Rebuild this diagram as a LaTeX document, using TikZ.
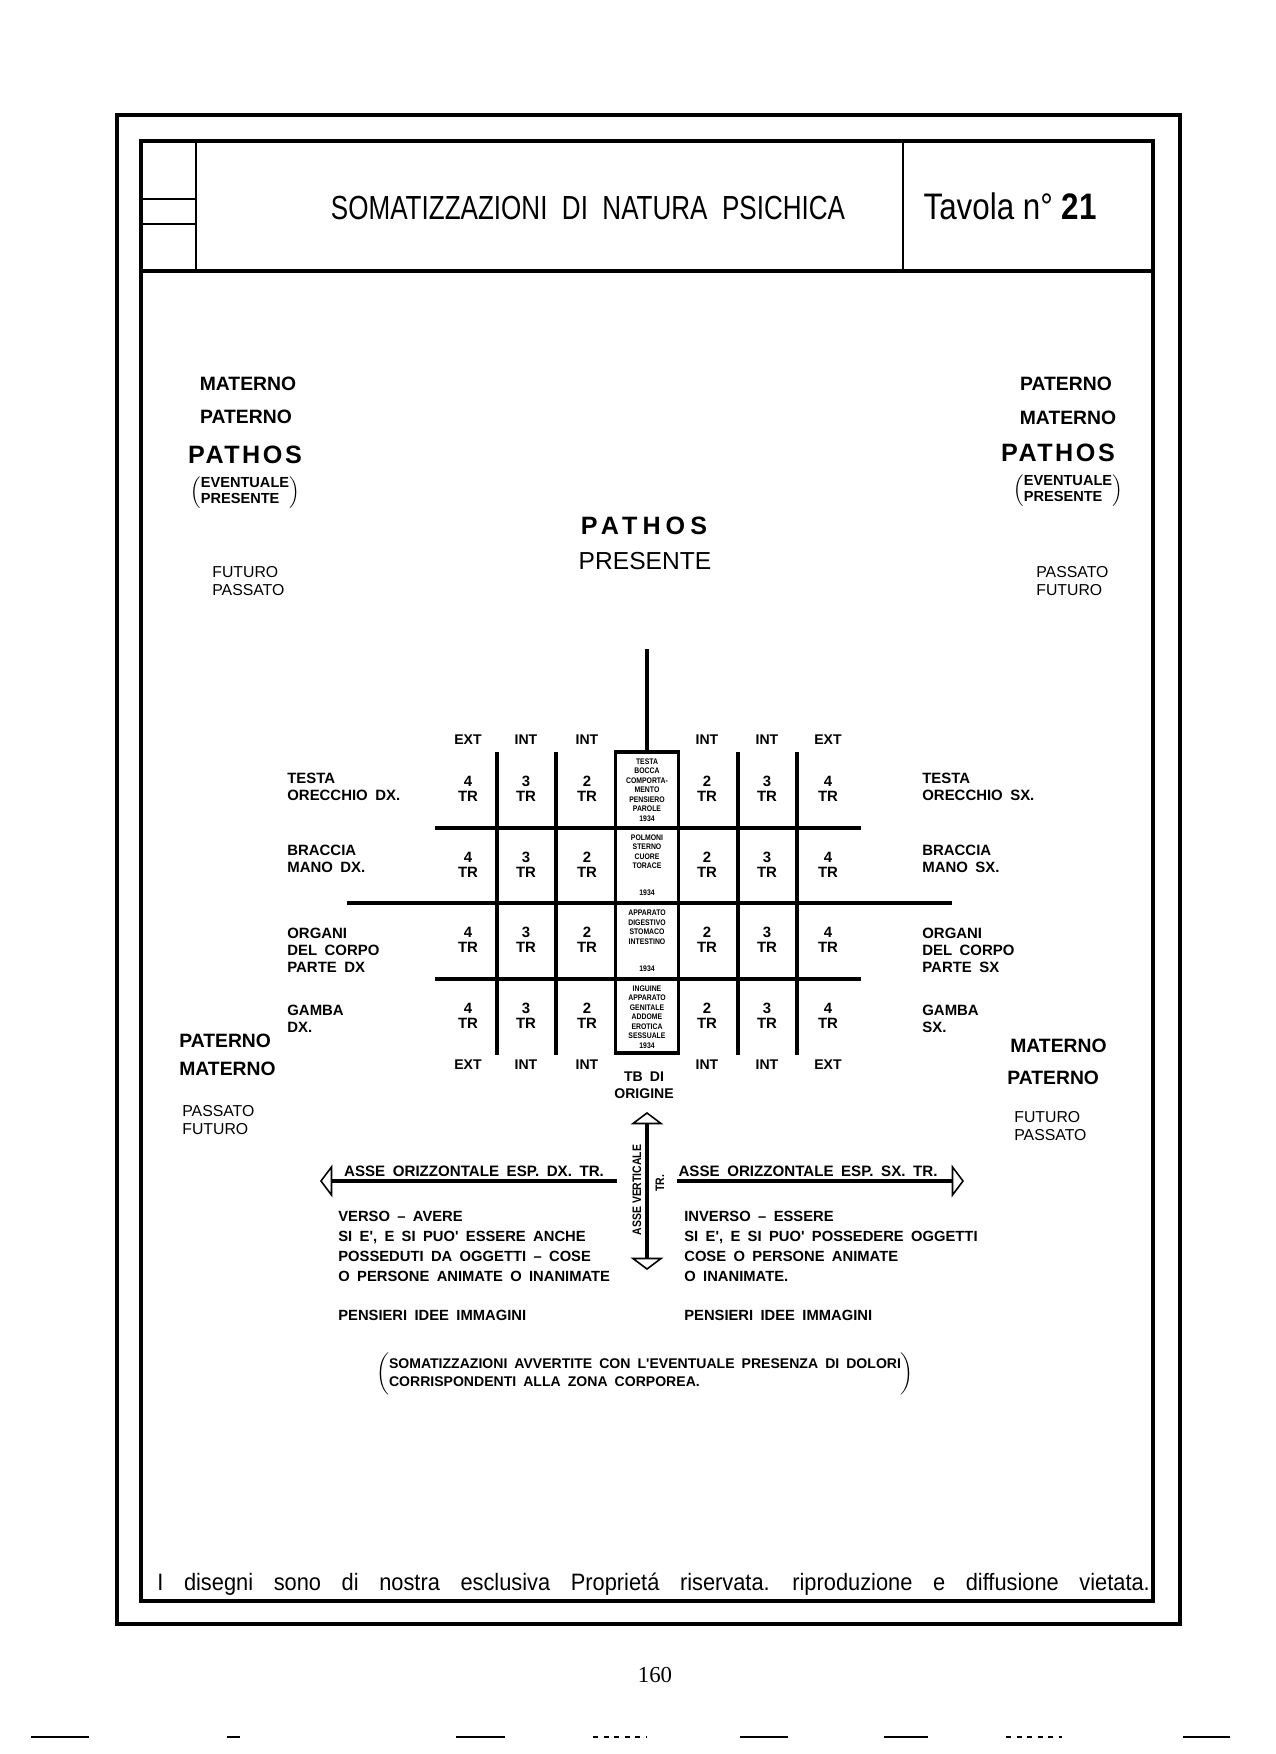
\documentclass[tikz,border=0pt]{standalone}
\usepackage{fontspec}
\setmainfont{Liberation Sans}
\newfontfamily\titlefont[FakeStretch=0.78, WordSpace=2]{Liberation Sans}
\newfontfamily\narrowfont[FakeStretch=0.85]{Liberation Sans}
\newfontfamily\cadfont[WordSpace=1.8]{Liberation Sans}
\newfontfamily\spacedfont[LetterSpace=10]{Liberation Sans}
\newfontfamily\widefont[LetterSpace=20]{Liberation Sans}
\newfontfamily\footfont[FakeStretch=0.92, WordSpace=3.4]{Liberation Sans}
\newfontfamily\pagefont{Liberation Serif}
\usetikzlibrary{positioning, arrows.meta}

\begin{document}
\begin{tikzpicture}[x=0.02cm, y=-0.02cm, inner sep=0pt,
    >={Triangle[open, length=7pt, width=18.5pt, line width=0.9pt]},
    cad/.style={font=\cadfont\bfseries\fontsize{8.5}{9.6}\selectfont, align=left},
    cell/.style={font=\bfseries\fontsize{8.5}{8.5}\selectfont, align=center},
    colhead/.style={font=\bfseries\fontsize{8}{9}\selectfont},
    organ/.style={font=\narrowfont\bfseries\fontsize{4.6}{5.4}\selectfont, align=center},
    parent/.style={font=\bfseries\fontsize{11}{13}\selectfont},
    pathos/.style={font=\spacedfont\bfseries\fontsize{14.3}{16}\selectfont},
    tense/.style={font=\fontsize{9}{10.2}\selectfont, align=left},
    paren/.style={font=\cadfont\bfseries\fontsize{8.3}{9.2}\selectfont},
    note/.style={font=\cadfont\bfseries\fontsize{8.4}{11.3}\selectfont, align=left},
    frame/.style={line width=2.2pt},
    gridline/.style={line width=2.2pt},
    axis/.style={line width=1.9pt},
    scan/.style={line width=0.9pt}]

% page and frames
\useasboundingbox (0,0) rectangle (1275,1754);
\fill[white] (0,0) rectangle (1275,1754);
\draw[frame] (117,115) rectangle (1180,1624);
\draw[frame, line width=1.8pt] (141,141) rectangle (1153,1601);
\draw[frame, line width=1.8pt] (141,271) -- (1153,271);
\draw[line width=1.5pt] (196,141) -- (196,271) (903,141) -- (903,271);
\draw[line width=1.5pt] (141,199) -- (196,199) (141,224) -- (196,224);

% header
\node[font=\titlefont\fontsize{19}{21}\selectfont] (title) at (588,208) {SOMATIZZAZIONI DI NATURA PSICHICA};
\node[font=\narrowfont\fontsize{21}{23}\selectfont] (tavola) at (1010,206) {Tavola n° \textbf{21}};

% upper corners
\node[parent] (matL) at (248,384) {MATERNO};
\node[parent] (patL) at (246,417) {PATERNO};
\node[pathos] (pathL) at (245,455) {PATHO\hspace{1.5pt}S};
\node[paren] (evL) at (245,492) {$\Bigl(\begin{tabular}{@{}l@{}}EVENTUALE\\PRESENTE\end{tabular}\Bigr)$};
\node[tense, anchor=west] (timeL) at (212,581) {FUTURO\\PASSATO};

\node[parent] (patR) at (1066,384) {PATERNO};
\node[parent] (matR) at (1068,418) {MATERNO};
\node[pathos] (pathR) at (1058,453) {PATHO\hspace{1.5pt}S};
\node[paren] (evR) at (1068,490) {$\Bigl(\begin{tabular}{@{}l@{}}EVENTUALE\\PRESENTE\end{tabular}\Bigr)$};
\node[tense, anchor=west] (timeR) at (1036,581) {PASSATO\\FUTURO};

\node[font=\widefont\bfseries\fontsize{14.3}{16}\selectfont] (pathC) at (644,526) {PATHOS};
\node[font=\fontsize{14}{16}\selectfont] (presC) at (645,561) {PRESENTE};

% lower corners
\node[parent, anchor=west] (patBL) at (179,1041) {PATERNO};
\node[parent, anchor=west] (matBL) at (179,1069) {MATERNO};
\node[tense, anchor=west] (timeBL) at (182,1120) {PASSATO\\FUTURO};
\node[parent, anchor=west] (matBR) at (1010,1046) {MATERNO};
\node[parent, anchor=west] (patBR) at (1007,1078) {PATERNO};
\node[tense, anchor=west] (timeBR) at (1014,1126) {FUTURO\\PASSATO};

% central column and grid
\node[draw, line width=1.8pt, minimum width=1.26cm, minimum height=6.02cm] (tb) at (647,902.5) {};
\coordinate (tbtop) at (647,649);
\draw[gridline] (tbtop) -- (tb.north);
\draw[gridline] (497,752) -- (497,1055) (556,752) -- (556,1055) (738,752) -- (738,1055) (797,752) -- (797,1055);
\draw[gridline] (435,828) -- (861,828) (347,903) -- (952,903) (435,979) -- (861,979);

\node[organ] (o1) at (647,790) {TESTA\\BOCCA\\COMPORTA-\\MENTO\\PENSIERO\\PAROLE\\1934};
\node[organ] (o2) at (647,865) {POLMONI\\STERNO\\CUORE\\TORACE\\[10pt]1934};
\node[organ] (o3) at (647,941) {APPARATO\\DIGESTIVO\\STOMACO\\INTESTINO\\[10.5pt]1934};
\node[organ] (o4) at (647,1017) {INGUINE\\APPARATO\\GENITALE\\ADDOME\\EROTICA\\SESSUALE\\1934};

% column heads
\node[colhead] (h1) at (468,740) {EXT};
\node[colhead] (h2) at (526,740) {INT};
\node[colhead] (h3) at (587,740) {INT};
\node[colhead] (h4) at (707,740) {INT};
\node[colhead] (h5) at (767,740) {INT};
\node[colhead] (h6) at (828,740) {EXT};
\node[colhead] (f1) at (468,1065) {EXT};
\node[colhead] (f2) at (526,1065) {INT};
\node[colhead] (f3) at (587,1065) {INT};
\node[colhead] (f4) at (707,1065) {INT};
\node[colhead] (f5) at (767,1065) {INT};
\node[colhead] (f6) at (828,1065) {EXT};

% cells
\node[cell] (a1) at (468,789) {4\\TR}; \node[cell] (a2) at (526,789) {3\\TR}; \node[cell] (a3) at (587,789) {2\\TR};
\node[cell] (a4) at (707,789) {2\\TR}; \node[cell] (a5) at (767,789) {3\\TR}; \node[cell] (a6) at (828,789) {4\\TR};
\node[cell] (b1) at (468,865) {4\\TR}; \node[cell] (b2) at (526,865) {3\\TR}; \node[cell] (b3) at (587,865) {2\\TR};
\node[cell] (b4) at (707,865) {2\\TR}; \node[cell] (b5) at (767,865) {3\\TR}; \node[cell] (b6) at (828,865) {4\\TR};
\node[cell] (c1) at (468,940) {4\\TR}; \node[cell] (c2) at (526,940) {3\\TR}; \node[cell] (c3) at (587,940) {2\\TR};
\node[cell] (c4) at (707,940) {2\\TR}; \node[cell] (c5) at (767,940) {3\\TR}; \node[cell] (c6) at (828,940) {4\\TR};
\node[cell] (d1) at (468,1016) {4\\TR}; \node[cell] (d2) at (526,1016) {3\\TR}; \node[cell] (d3) at (587,1016) {2\\TR};
\node[cell] (d4) at (707,1016) {2\\TR}; \node[cell] (d5) at (767,1016) {3\\TR}; \node[cell] (d6) at (828,1016) {4\\TR};

% body parts
\node[cad, anchor=west] (headL) at (287,787) {TESTA\\ORECCHIO DX.};
\node[cad, anchor=west] (armL) at (287,859) {BRACCIA\\MANO DX.};
\node[cad, anchor=west] (bodyL) at (287,950) {ORGANI\\DEL CORPO\\PARTE DX};
\node[cad, anchor=west] (legL) at (287,1019) {GAMBA\\DX.};
\node[cad, anchor=west] (headR) at (922,787) {TESTA\\ORECCHIO SX.};
\node[cad, anchor=west] (armR) at (922,859) {BRACCIA\\MANO SX.};
\node[cad, anchor=west] (bodyR) at (922,950) {ORGANI\\DEL CORPO\\PARTE SX};
\node[cad, anchor=west] (legR) at (922,1019) {GAMBA\\SX.};

% axes
\node[cad, align=center, font=\cadfont\bfseries\fontsize{8}{9.4}\selectfont] (origin) at (644,1085) {TB DI\\ORIGINE};
\coordinate (vtop) at (647,1112);
\coordinate (vbot) at (647,1270);
\coordinate (lfrom) at (617,1181);
\coordinate (lto) at (320,1181);
\coordinate (rfrom) at (677,1181);
\coordinate (rto) at (964,1181);
\draw[axis, <->] (vtop) -- (vbot);
\draw[axis, ->] (lfrom) -- (lto);
\draw[axis, ->] (rfrom) -- (rto);
\node[font=\cadfont\bfseries\fontsize{8.6}{10}\selectfont] (axL) at (474,1171) {ASSE ORIZZONTALE ESP. DX. TR.};
\node[font=\cadfont\bfseries\fontsize{8.6}{10}\selectfont] (axR) at (808,1171) {ASSE ORIZZONTALE ESP. SX. TR.};
\node[font=\narrowfont\bfseries\fontsize{7}{8}\selectfont, rotate=90] (axV) at (637,1190) {ASSE VERTICALE};
\node[font=\narrowfont\bfseries\fontsize{7}{8}\selectfont, rotate=90] (axT) at (660,1183) {TR.};

% texts under the axes
\node[note, anchor=north west] (versoL) at (338,1211) {VERSO – AVERE\\SI E', E SI PUO' ESSERE ANCHE\\POSSEDUTI DA OGGETTI – COSE\\O PERSONE ANIMATE O INANIMATE\\[11.3pt]PENSIERI IDEE IMMAGINI};
\node[note, anchor=north west] (versoR) at (684,1211) {INVERSO – ESSERE\\SI E', E SI PUO' POSSEDERE OGGETTI\\COSE O PERSONE ANIMATE\\O INANIMATE.\\[11.3pt]PENSIERI IDEE IMMAGINI};
\node[font=\cadfont\bfseries\fontsize{8}{10.5}\selectfont] (remark) at (645,1374) {$\left(\begin{tabular}{@{}l@{}}SOMATIZZAZIONI AVVERTITE CON L'EVENTUALE PRESENZA DI DOLORI\\CORRISPONDENTI ALLA ZONA CORPOREA.\end{tabular}\right)$};

% footer
\node[font=\footfont\fontsize{13.5}{15}\selectfont, anchor=west] (rights) at (157,1584) {I disegni sono di nostra esclusiva Proprietá riservata. riproduzione e diffusione vietata.};
\node[font=\pagefont\fontsize{13}{15}\selectfont] (pagenum) at (655,1675) {160};

% scan marks
\draw[scan, line width=1.6pt] (31,1737) -- (89,1737);
\draw[scan] (227,1737) -- (240,1737) (456,1737) -- (505,1737) (740,1737) -- (788,1737) (884,1737) -- (928,1737);
\draw[scan, dashed] (593,1737) -- (646,1737) (1006,1737) -- (1062,1737);
\draw[scan, line width=1.6pt] (1183,1737) -- (1230,1737);
\end{tikzpicture}
\end{document}
